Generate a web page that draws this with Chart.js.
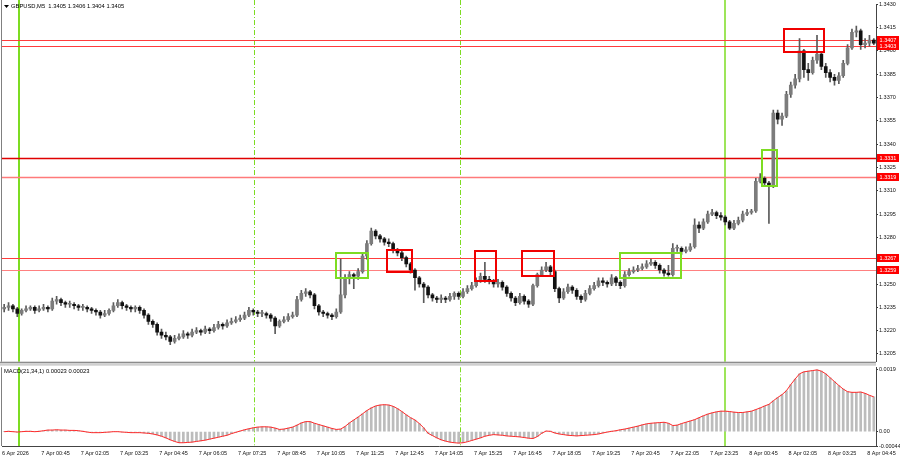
<!DOCTYPE html>
<html>
<head>
<meta charset="utf-8">
<title>GBPUSD,M5</title>
<script src="https://cdn.jsdelivr.net/npm/chart.js"></script>
<style>
  html, body { margin: 0; padding: 0; background: #fff; }
  #wrap { position: relative; width: 900px; height: 460px; overflow: hidden; }
  #price { position: absolute; left: 0; top: 0; }
  #macd { position: absolute; left: 0; top: 363px; }
</style>
</head>
<body>
<div id="wrap">
  <canvas id="price" width="900" height="366"></canvas>
  <canvas id="macd" width="900" height="97"></canvas>
</div>
<script>
// ---- data (one candle per slot, 200 slots) ----
const firstOpen = 1.3234;
const closes = [
  1.3235,1.3236,1.3234,1.3231,1.3233,1.3234,1.3235,1.3233,1.3234,1.3235,
  1.3234,1.3239,1.3240,1.3238,1.3237,1.3237,1.3236,1.3235,1.3235,1.3234,
  1.3233,1.3232,1.3230,1.3231,1.3233,1.3236,1.3238,1.3236,1.3235,1.3234,
  1.3235,1.3233,1.3230,1.3226,1.3224,1.3219,1.3217,1.3216,1.3213,1.3215,
  1.3216,1.3218,1.3217,1.3219,1.3220,1.3219,1.3221,1.3220,1.3222,1.3224,
  1.3223,1.3225,1.3226,1.3227,1.3228,1.3230,1.3233,1.3232,1.3231,1.3231,
  1.3230,1.3228,1.3223,1.3226,1.3227,1.3229,1.3230,1.3240,1.3244,1.3245,
  1.3243,1.3236,1.3232,1.3231,1.3230,1.3229,1.3232,1.3243,1.3254,1.3256,
  1.3255,1.3258,1.3268,1.3276,1.3284,1.3281,1.3279,1.3277,1.3276,1.3272,
  1.3270,1.3267,1.3263,1.3259,1.3254,1.3250,1.3248,1.3243,1.3241,1.3240,
  1.3241,1.3240,1.3242,1.3244,1.3242,1.3245,1.3247,1.3249,1.3252,1.3255,
  1.3253,1.3252,1.3250,1.3251,1.3248,1.3244,1.3241,1.3238,1.3242,1.3239,
  1.3237,1.3249,1.3256,1.3259,1.3261,1.3258,1.3247,1.3241,1.3245,1.3248,
  1.3246,1.3242,1.3240,1.3244,1.3247,1.3249,1.3252,1.3251,1.3250,1.3254,
  1.3251,1.3249,1.3256,1.3258,1.3259,1.3260,1.3261,1.3263,1.3264,1.3262,
  1.3259,1.3257,1.3256,1.3273,1.3273,1.3271,1.3272,1.3274,1.3288,1.3286,
  1.3290,1.3295,1.3296,1.3294,1.3293,1.3290,1.3286,1.3289,1.3291,1.3295,
  1.3296,1.3297,1.3316,1.3318,1.3315,1.3314,1.3360,1.3356,1.3358,1.3372,
  1.3378,1.3382,1.3400,1.3388,1.3386,1.3394,1.3398,1.3390,1.3386,1.3383,
  1.3381,1.3384,1.3392,1.3402,1.3412,1.3413,1.3404,1.3405,1.3407,1.3405
];
const highs = [
  1.3237,1.3238,1.3237,1.3235,1.3234,1.3236,1.3236,1.3236,1.3236,1.3237,
  1.3236,1.3241,1.3242,1.3241,1.3239,1.3239,1.3238,1.3237,1.3237,1.3236,
  1.3235,1.3234,1.3233,1.3233,1.3234,1.3238,1.3240,1.3239,1.3237,1.3236,
  1.3236,1.3236,1.3234,1.3231,1.3227,1.3225,1.3221,1.3219,1.3217,1.3217,
  1.3218,1.3220,1.3219,1.3221,1.3222,1.3221,1.3223,1.3222,1.3224,1.3226,
  1.3225,1.3227,1.3228,1.3229,1.3230,1.3232,1.3235,1.3234,1.3233,1.3233,
  1.3232,1.3231,1.3229,1.3227,1.3229,1.3231,1.3232,1.3242,1.3246,1.3247,
  1.3246,1.3244,1.3237,1.3233,1.3232,1.3231,1.3234,1.3266,1.3256,1.3258,
  1.3257,1.3260,1.3270,1.3278,1.3286,1.3285,1.3282,1.3280,1.3279,1.3277,
  1.3273,1.3271,1.3268,1.3264,1.3260,1.3255,1.3251,1.3249,1.3244,1.3242,
  1.3243,1.3242,1.3244,1.3245,1.3245,1.3247,1.3249,1.3251,1.3254,1.3257,
  1.3264,1.3255,1.3253,1.3253,1.3252,1.3249,1.3245,1.3242,1.3244,1.3243,
  1.3240,1.3250,1.3257,1.3261,1.3264,1.3262,1.3259,1.3248,1.3247,1.3250,
  1.3249,1.3247,1.3243,1.3246,1.3249,1.3251,1.3254,1.3254,1.3252,1.3256,
  1.3255,1.3252,1.3258,1.3260,1.3261,1.3262,1.3263,1.3265,1.3266,1.3265,
  1.3263,1.3260,1.3262,1.3276,1.3275,1.3274,1.3274,1.3276,1.3292,1.3290,
  1.3292,1.3297,1.3298,1.3297,1.3296,1.3294,1.3291,1.3291,1.3293,1.3297,
  1.3298,1.3298,1.3318,1.3321,1.3319,1.3316,1.3362,1.3362,1.3360,1.3374,
  1.3380,1.3385,1.3408,1.3401,1.3392,1.3396,1.3410,1.3399,1.3392,1.3388,
  1.3385,1.3386,1.3394,1.3404,1.3414,1.3416,1.3414,1.3408,1.3410,1.3408
];
const lows = [
  1.3232,1.3233,1.3232,1.3229,1.3230,1.3232,1.3233,1.3231,1.3232,1.3233,
  1.3232,1.3233,1.3237,1.3236,1.3235,1.3235,1.3234,1.3233,1.3233,1.3232,
  1.3231,1.3230,1.3228,1.3229,1.3230,1.3232,1.3235,1.3234,1.3233,1.3232,
  1.3232,1.3231,1.3228,1.3224,1.3222,1.3217,1.3215,1.3214,1.3211,1.3212,
  1.3214,1.3215,1.3215,1.3216,1.3218,1.3217,1.3218,1.3218,1.3219,1.3221,
  1.3221,1.3222,1.3224,1.3225,1.3226,1.3227,1.3229,1.3230,1.3229,1.3229,
  1.3228,1.3226,1.3218,1.3222,1.3225,1.3226,1.3228,1.3229,1.3239,1.3242,
  1.3241,1.3234,1.3230,1.3229,1.3228,1.3227,1.3228,1.3231,1.3241,1.3250,
  1.3247,1.3253,1.3257,1.3266,1.3275,1.3279,1.3277,1.3275,1.3274,1.3270,
  1.3268,1.3265,1.3261,1.3257,1.3246,1.3248,1.3238,1.3241,1.3239,1.3238,
  1.3238,1.3238,1.3239,1.3240,1.3240,1.3241,1.3244,1.3246,1.3248,1.3251,
  1.3251,1.3250,1.3248,1.3248,1.3246,1.3242,1.3239,1.3236,1.3237,1.3237,
  1.3235,1.3236,1.3248,1.3255,1.3258,1.3256,1.3245,1.3238,1.3240,1.3244,
  1.3244,1.3240,1.3238,1.3239,1.3243,1.3246,1.3248,1.3249,1.3248,1.3249,
  1.3249,1.3247,1.3248,1.3255,1.3257,1.3258,1.3259,1.3260,1.3262,1.3260,
  1.3257,1.3255,1.3255,1.3255,1.3271,1.3269,1.3270,1.3271,1.3273,1.3283,
  1.3285,1.3289,1.3294,1.3292,1.3291,1.3288,1.3285,1.3285,1.3288,1.3290,
  1.3294,1.3295,1.3296,1.3315,1.3313,1.3289,1.3312,1.3353,1.3352,1.3357,
  1.3370,1.3376,1.3380,1.3383,1.3381,1.3385,1.3392,1.3388,1.3383,1.3380,
  1.3378,1.3379,1.3383,1.3391,1.3401,1.3409,1.3401,1.3402,1.3403,1.3404
];
// MACD(21,34,1) main value (signal equals it with period 1)
const macdValues = [
  0.00000,0.00001,0.00000,-0.00001,0.00000,0.00001,0.00001,0.00000,0.00001,0.00003,
  0.00005,0.00005,0.00006,0.00005,0.00005,0.00004,0.00004,0.00003,0.00001,-0.00001,
  -0.00003,-0.00003,-0.00003,-0.00002,-0.00001,0.00000,0.00000,-0.00001,-0.00002,-0.00003,
  -0.00003,-0.00003,-0.00004,-0.00005,-0.00007,-0.00010,-0.00014,-0.00019,-0.00025,-0.00030,
  -0.00034,-0.00034,-0.00033,-0.00032,-0.00030,-0.00028,-0.00026,-0.00023,-0.00020,-0.00017,
  -0.00014,-0.00011,-0.00006,-0.00002,0.00002,0.00006,0.00009,0.00012,0.00014,0.00015,
  0.00015,0.00014,0.00011,0.00007,0.00008,0.00011,0.00014,0.00020,0.00027,0.00031,
  0.00031,0.00026,0.00022,0.00018,0.00014,0.00010,0.00007,0.00008,0.00016,0.00027,
  0.00036,0.00045,0.00055,0.00065,0.00073,0.00079,0.00082,0.00083,0.00082,0.00078,
  0.00071,0.00062,0.00052,0.00043,0.00036,0.00025,0.00012,-0.00005,-0.00012,-0.00019,
  -0.00025,-0.00029,-0.00032,-0.00034,-0.00035,-0.00034,-0.00031,-0.00027,-0.00023,-0.00019,
  -0.00014,-0.00011,-0.00009,-0.00010,-0.00011,-0.00013,-0.00014,-0.00015,-0.00016,-0.00018,
  -0.00020,-0.00021,-0.00015,-0.00005,0.00002,0.00001,-0.00004,-0.00007,-0.00009,-0.00011,
  -0.00012,-0.00013,-0.00012,-0.00011,-0.00010,-0.00009,-0.00007,-0.00004,-0.00001,0.00001,
  0.00003,0.00006,0.00008,0.00011,0.00014,0.00017,0.00021,0.00024,0.00026,0.00027,
  0.00028,0.00029,0.00026,0.00019,0.00020,0.00025,0.00029,0.00033,0.00037,0.00043,
  0.00049,0.00054,0.00058,0.00061,0.00063,0.00063,0.00062,0.00060,0.00059,0.00059,
  0.00061,0.00063,0.00068,0.00073,0.00079,0.00084,0.00095,0.00105,0.00114,0.00126,
  0.00145,0.00162,0.00178,0.00184,0.00186,0.00188,0.00190,0.00186,0.00178,0.00166,
  0.00154,0.00142,0.00131,0.00123,0.00121,0.00121,0.00122,0.00118,0.00112,0.00107
];

const timeLabels = ['6 Apr 2026', '7 Apr 00:45', '7 Apr 02:05', '7 Apr 03:25', '7 Apr 04:45',
  '7 Apr 06:05', '7 Apr 07:25', '7 Apr 08:45', '7 Apr 10:05', '7 Apr 11:25', '7 Apr 12:45',
  '7 Apr 14:05', '7 Apr 15:25', '7 Apr 16:45', '7 Apr 18:05', '7 Apr 19:25', '7 Apr 20:45',
  '7 Apr 22:05', '7 Apr 23:25', '8 Apr 00:45', '8 Apr 02:05', '8 Apr 03:25', '8 Apr 04:45'];
const timeTickSlots = [-0.5, 8.5, 17.5, 26.5, 35.5, 44.5, 53.5, 62.5, 71.5, 80.5, 89.5,
  98.5, 107.5, 116.5, 125.5, 134.5, 143.5, 152.5, 161.5, 170.5, 179.5, 188.5, 197.5];

const priceTicks = [1.3430, 1.3415, 1.3400, 1.3385, 1.3370, 1.3355, 1.3340, 1.3325,
  1.3310, 1.3295, 1.3280, 1.3265, 1.3250, 1.3235, 1.3220, 1.3205];
const macdTicks = [0.0019, 0, -0.00044];
const macdTickText = ['0.0019', '0.00', '-0.00044'];

const levels = [1.3407, 1.3403, 1.3331, 1.3319, 1.3267, 1.3259];
const sessionSlots = [3.4, 57.2, 104.3, 164.9];
// zones: [fromSlot, toSlot, lowPrice, highPrice]
const redZones = [[87.6, 93.3, 1.3258, 1.3272], [107.7, 112.5, 1.3252, 1.3271],
  [118.5, 125.8, 1.3255, 1.3271], [178.4, 187.6, 1.3399, 1.3414]];
const greenZones = [[75.9, 83.3, 1.3254, 1.3270], [140.9, 154.9, 1.3254, 1.3270],
  [173.4, 176.8, 1.3313, 1.3336]];

// ---- styles ----
const FONT = '"Liberation Sans", Arial, sans-serif';
const levelColors = ['#ff3c3c', '#ff3c3c', '#e00000', '#ff7a7a', '#ff3c3c', '#ff8080'];
const levelWidths = [1, 1, 1.5, 1.5, 1, 1.2];
const sessionStyle = [{ w: 2, dash: [] }, { w: 1, dash: [5, 2, 1, 2] },
  { w: 1, dash: [5, 2, 1, 2] }, { w: 1.5, dash: [] }];
const GREEN = '#7ddc22';

Chart.defaults.font.family = FONT;

const opens = closes.map((c, i) => i === 0 ? firstOpen : closes[i - 1]);
const wickData = closes.map((c, i) => ({ x: i, y: [lows[i], highs[i]] }));
const bodyData = closes.map((c, i) => ({ x: i, y: [opens[i], c] }));
const bodyColors = closes.map((c, i) => c >= opens[i] ? '#7c7c7c' : '#111111');

function drawSessions(chart, y0, y1) {
  const ctx = chart.ctx, xs = chart.scales.x;
  ctx.save();
  ctx.strokeStyle = GREEN;
  sessionSlots.forEach((v, k) => {
    const px = Math.round(xs.getPixelForValue(v)) + (sessionStyle[k].w === 1 ? 0.5 : 0);
    ctx.lineWidth = sessionStyle[k].w;
    ctx.setLineDash(sessionStyle[k].dash);
    ctx.beginPath(); ctx.moveTo(px, y0); ctx.lineTo(px, y1); ctx.stroke();
  });
  ctx.restore();
}

const priceDecor = {
  id: 'priceDecor',
  beforeDatasetsDraw(chart) {
    const ctx = chart.ctx, ys = chart.scales.y, a = chart.chartArea;
    drawSessions(chart, 0, a.bottom);
    ctx.save();
    levels.forEach((v, k) => {
      const py = Math.round(ys.getPixelForValue(v)) + 0.5;
      ctx.strokeStyle = levelColors[k];
      ctx.lineWidth = levelWidths[k];
      ctx.beginPath(); ctx.moveTo(a.left, py); ctx.lineTo(a.right, py); ctx.stroke();
    });
    ctx.restore();
  },
  afterDatasetsDraw(chart) {
    const ctx = chart.ctx, xs = chart.scales.x, ys = chart.scales.y;
    ctx.save();
    ctx.lineWidth = 2;
    const box = (z, col) => {
      const x0 = xs.getPixelForValue(z[0]), x1 = xs.getPixelForValue(z[1]);
      const y0 = ys.getPixelForValue(z[3]), y1 = ys.getPixelForValue(z[2]);
      ctx.strokeStyle = col;
      ctx.strokeRect(Math.round(x0), Math.round(y0), Math.round(x1 - x0), Math.round(y1 - y0));
    };
    redZones.forEach(z => box(z, '#f00000'));
    greenZones.forEach(z => box(z, GREEN));
    ctx.restore();
  },
  afterDraw(chart) {
    const ctx = chart.ctx, ys = chart.scales.y, a = chart.chartArea;
    ctx.save();
    // level price tags on the axis
    ctx.font = '5.5px ' + FONT;
    ctx.textAlign = 'center';
    ctx.textBaseline = 'middle';
    levels.forEach(v => {
      const py = Math.round(ys.getPixelForValue(v));
      ctx.fillStyle = '#ff0000';
      ctx.fillRect(a.right + 1, py - 4, 22, 8);
      ctx.fillStyle = '#ffffff';
      ctx.fillText(v.toFixed(4), a.right + 12, py + 0.5);
    });
    // symbol caption
    ctx.fillStyle = '#000';
    ctx.beginPath(); ctx.moveTo(4, 5); ctx.lineTo(9, 5); ctx.lineTo(6.5, 8); ctx.closePath(); ctx.fill();
    ctx.font = '5.8px ' + FONT;
    ctx.textAlign = 'left';
    ctx.fillText('GBPUSD,M5  1.3405 1.3406 1.3404 1.3405', 11, 6.5);
    // pane separator and left border
    ctx.fillStyle = '#8c8c8c';
    ctx.fillRect(0, a.bottom, a.right, 1.5);
    ctx.fillStyle = '#cfcfcf';
    ctx.fillRect(0, a.bottom + 1.5, a.right, 2.5);
    ctx.fillStyle = '#808080';
    ctx.fillRect(1, 0, 1, a.bottom);
    ctx.restore();
  }
};

const macdDecor = {
  id: 'macdDecor',
  beforeDatasetsDraw(chart) {
    drawSessions(chart, chart.chartArea.top, chart.chartArea.bottom);
  },
  afterDraw(chart) {
    const ctx = chart.ctx, a = chart.chartArea;
    ctx.save();
    ctx.fillStyle = '#000';
    ctx.font = '5.8px ' + FONT;
    ctx.textBaseline = 'middle';
    ctx.fillText('MACD(21,34,1) 0.00023 0.00023', 4, a.top + 4.5);
    ctx.fillStyle = '#808080';
    ctx.fillRect(1, a.top, 1, a.bottom - a.top);
    ctx.restore();
  }
};

const tickFont = { size: 5.5, family: FONT };

new Chart(document.getElementById('price'), {
  type: 'bar',
  data: {
    datasets: [
      { data: bodyData, backgroundColor: bodyColors, barThickness: 3, minBarLength: 1, grouped: false, order: 0 },
      { data: wickData, backgroundColor: '#5a5a5a', barThickness: 1, grouped: false, order: 1 }
    ]
  },
  options: {
    responsive: false,
    animation: false,
    layout: { padding: { left: 2, top: 4, right: 0, bottom: 4 } },
    plugins: { legend: { display: false }, tooltip: { enabled: false } },
    scales: {
      x: { type: 'linear', display: false, offset: false, min: -0.5, max: 199.5 },
      y: {
        position: 'right', min: 1.3200, max: 1.3430,
        afterBuildTicks: s => { s.ticks = priceTicks.map(v => ({ value: v })); },
        afterFit: s => { s.width = 24; },
        grid: { drawOnChartArea: false, drawTicks: true, tickLength: 2, tickColor: '#333' },
        border: { display: true, color: '#444' },
        ticks: { padding: 1, color: '#111', font: tickFont, callback: v => Number(v).toFixed(4) }
      }
    }
  },
  plugins: [priceDecor]
});

new Chart(document.getElementById('macd'), {
  type: 'bar',
  data: {
    datasets: [
      { type: 'line', data: macdValues.map((v, i) => ({ x: i, y: v })), borderColor: '#ff2a2a',
        borderWidth: 1, pointRadius: 0, tension: 0, order: 0 },
      { data: macdValues.map((v, i) => ({ x: i, y: v })), backgroundColor: '#bcbcbc',
        barThickness: 2, grouped: false, order: 1 }
    ]
  },
  options: {
    responsive: false,
    animation: false,
    layout: { padding: { left: 2, top: 4, right: 0, bottom: 0 } },
    plugins: { legend: { display: false }, tooltip: { enabled: false } },
    scales: {
      x: {
        type: 'linear', offset: false, min: -0.5, max: 199.5,
        afterBuildTicks: s => { s.ticks = timeTickSlots.map(v => ({ value: v })); },
        afterFit: s => { s.height = 14; },
        grid: { drawOnChartArea: false, drawTicks: true, tickLength: 4, tickColor: 'rgba(0,0,0,0)' },
        border: { display: true, color: '#444' },
        ticks: { autoSkip: false, maxRotation: 0, minRotation: 0, align: 'start', padding: 0,
          color: '#111', font: tickFont, callback: (v, i) => timeLabels[i] }
      },
      y: {
        position: 'right', min: -0.00044, max: 0.00198,
        afterBuildTicks: s => { s.ticks = macdTicks.map(v => ({ value: v })); },
        afterFit: s => { s.width = 24; },
        grid: { drawOnChartArea: false, drawTicks: true, tickLength: 2, tickColor: '#333' },
        border: { display: true, color: '#444' },
        ticks: { padding: 1, color: '#111', font: tickFont, callback: (v, i) => macdTickText[i] }
      }
    }
  },
  plugins: [macdDecor]
});
</script>
</body>
</html>
